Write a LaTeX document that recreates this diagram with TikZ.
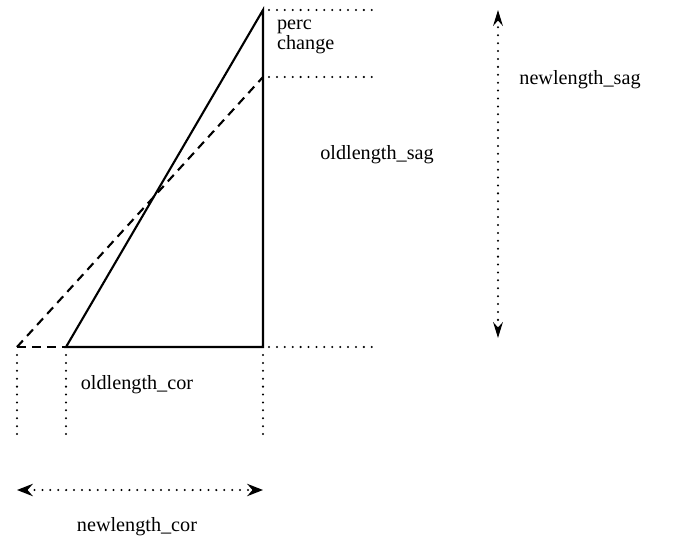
\documentclass[tikz,border=0pt]{standalone}
\usepackage{fontspec}
\setmainfont{Liberation Serif}
\usetikzlibrary{arrows.meta, positioning}

\tikzset{
  guide/.style={line width=1.3pt, line cap=round, dash pattern=on 0pt off 4.5pt},
  edge/.style={line width=1.2pt},
  newedge/.style={line width=1.2pt, dash pattern=on 5pt off 3.5pt},
  lbl/.style={font=\fontsize{11.5}{11}\selectfont, inner sep=1pt}
}

\begin{document}
\begin{tikzpicture}[>=Stealth, x=0.02cm, y=-0.02cm]
  \useasboundingbox (0,0) rectangle (698,548);

  % Corners of the triangles
  \coordinate (top) at (263,10);
  \coordinate (mid) at (263,77);
  \coordinate (br)  at (263,347);
  \coordinate (bl)  at (66,347);
  \coordinate (nbl) at (17,347);

  % Old and new shapes
  \draw[edge] (bl) -- (top) -- (br) -- cycle;
  \draw[newedge] (nbl) -- (mid);
  \draw[newedge] (nbl) -- (bl);

  % Guide lines
  \foreach \c in {top, mid, br}
    \draw[guide] (\c) ++(6,0) -- ++(110,0);
  \foreach \c in {nbl, bl, br}
    \draw[guide] (\c) ++(0,8) -- ++(0,84);

  % Measure arrows
  \coordinate (cl) at (17,490);
  \coordinate (cr) at (263,490);
  \coordinate (st) at (498,10);
  \coordinate (sb) at (498,338);
  \draw[guide, {Stealth[length=9pt, width=7pt, inset=3pt]}-{Stealth[length=9pt, width=7pt, inset=3pt]}] (cl) -- (cr);
  \draw[guide, {Stealth[length=9pt, width=5.5pt, inset=3pt]}-{Stealth[length=9pt, width=5.5pt, inset=3pt]}] (st) -- (sb);

  % Labels
  \node[lbl, font=\fontsize{11.5}{9}\selectfont, align=left, anchor=west] (perc) at (275,37) {perc\\change};
  \node[lbl] (olds) at (377,155) {oldlength\_sag};
  \node[lbl] (news) at (580,80) {newlength\_sag};
  \node[lbl] (oldc) at (137,385) {oldlength\_cor};
  \node[lbl] (newc) at (137,527) {newlength\_cor};
\end{tikzpicture}
\end{document}
